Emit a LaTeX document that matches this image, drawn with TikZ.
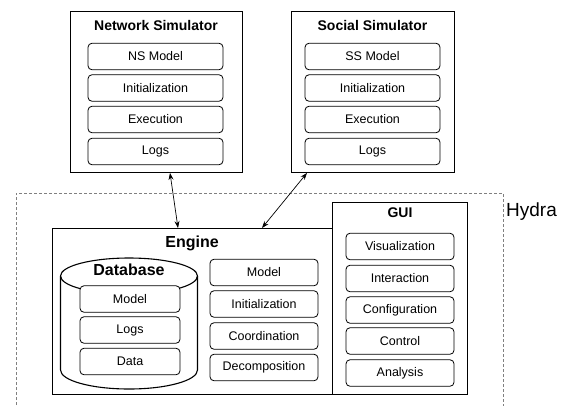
\documentclass[tikz,border=0pt]{standalone}
\usepackage{fontspec}
\setmainfont{Liberation Sans}
\usetikzlibrary{arrows.meta}
\begin{document}
\begin{tikzpicture}[x=1pt,y=-1pt,
  outer/.style={draw, line width=0.9pt, rectangle, anchor=north west, inner sep=0pt},
  item/.style={draw, fill=white, rounded corners=4pt, line width=0.8pt, inner sep=0pt,
    minimum height=26.5pt, font=\fontsize{12.5}{14}\selectfont},
  wideitem/.style={item, minimum width=135pt},
  miditem/.style={item, minimum width=108pt},
  dbitem/.style={item, minimum width=100pt},
  title/.style={font=\bfseries\fontsize{14}{16}\selectfont, inner sep=0pt},
  bigtitle/.style={font=\bfseries\fontsize{16}{18}\selectfont, inner sep=0pt},
  link/.style={line width=0.7pt, {Stealth[length=7pt,width=5pt]}-{Stealth[length=7pt,width=5pt]}},
  hydrabox/.style={draw=gray, line width=0.7pt, dash pattern=on 3pt off 2pt}
]
\useasboundingbox (0,0) rectangle (569,405);

% Hydra dashed frame
\draw[hydrabox] (16,410) -- (16,193) -- (503,193) -- (503,410);
\node[anchor=west, inner sep=0pt, font=\fontsize{19}{22}\selectfont] (hydra) at (506,212) {Hydra};

% Network Simulator
\node[outer, minimum width=172pt, minimum height=161pt] (ns) at (70,11) {};
\node[title] (nst) at (156,25) {Network Simulator};
\node[wideitem] (ns1) at (155.5,56.5) {NS Model};
\node[wideitem] (ns2) at (155.5,88) {Initialization};
\node[wideitem] (ns3) at (155.5,119.5) {Execution};
\node[wideitem] (ns4) at (155.5,151.5) {Logs};

% Social Simulator
\node[outer, minimum width=163pt, minimum height=161pt] (ss) at (291,11) {};
\node[title] (sst) at (372.5,25) {Social Simulator};
\node[wideitem] (ss1) at (372.5,56.5) {SS Model};
\node[wideitem] (ss2) at (372.5,88) {Initialization};
\node[wideitem] (ss3) at (372.5,119.5) {Execution};
\node[wideitem] (ss4) at (372.5,151.5) {Logs};

% Engine
\node[outer, minimum width=280pt, minimum height=166pt] (eng) at (52,228) {};
\node[bigtitle] (engt) at (192,243) {Engine};
\node[miditem] (e1) at (264,272.5) {Model};
\node[miditem] (e2) at (264,304) {Initialization};
\node[miditem] (e3) at (264,336) {Coordination};
\node[miditem] (e4) at (264,367.5) {Decomposition};

% Database cylinder
\draw[line width=1.1pt] (60.5,276) -- (60.5,370)
  arc[start angle=180, end angle=360, x radius=68.5pt, y radius=19pt] -- (197.5,276);
\draw[line width=1.1pt] (129,276) ellipse [x radius=68.5pt, y radius=18pt];
\node[bigtitle] (dbt) at (129,270) {Database};
\node[dbitem] (d1) at (130,299) {Model};
\node[dbitem] (d2) at (130,330) {Logs};
\node[dbitem] (d3) at (130,361.5) {Data};

% GUI
\node[outer, minimum width=135pt, minimum height=192pt] (gui) at (332,202) {};
\node[title] (guit) at (400,212.5) {GUI};
\node[miditem] (g1) at (400,246.5) {Visualization};
\node[miditem] (g2) at (400,278.5) {Interaction};
\node[miditem] (g3) at (400,310) {Configuration};
\node[miditem] (g4) at (400,341) {Control};
\node[miditem] (g5) at (400,373) {Analysis};

% connectors
\draw[link] ([xshift=100pt]ns.south west) -- ([xshift=126pt]eng.north west);
\draw[link] ([xshift=16pt]ss.south west) -- ([xshift=210pt]eng.north west);
\end{tikzpicture}
\end{document}
